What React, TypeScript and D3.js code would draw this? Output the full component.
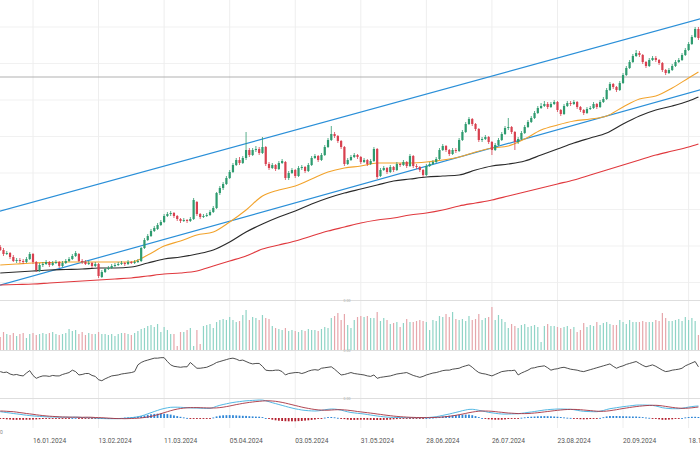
import * as d3 from 'd3';

// daily OHLC, first bar = 02.01.2024
const opens = [
  25.3, 25.0, 24.6, 24.7, 24.3, 23.9, 24.0, 23.9, 23.8, 24.1,
  24.6, 23.8, 22.9, 23.5, 23.6, 23.8, 23.5, 23.7, 23.8, 23.4,
  23.7, 23.9, 24.1, 24.4, 24.6, 23.9, 23.8, 23.6, 23.7, 23.4,
  23.6, 22.3, 22.8, 23.1, 23.2, 23.4, 23.5, 23.6, 23.7, 23.6,
  23.8, 23.7, 23.8, 23.9, 25.2, 26.0, 26.4, 26.9, 27.1, 27.5,
  27.8, 28.4, 28.6, 28.7, 28.4, 28.1, 27.9, 28.0, 27.9, 28.1,
  29.8, 28.6, 28.3, 28.4, 28.5, 28.8, 29.2, 30.7, 31.2, 31.6,
  32.2, 32.8, 33.5, 34.0, 33.7, 34.2, 35.0, 34.5, 35.0, 35.1,
  34.7, 35.3, 33.6, 33.2, 33.5, 33.1, 33.7, 33.8, 32.2, 32.7,
  33.0, 32.4, 33.2, 33.3, 32.9, 33.5, 34.2, 34.4, 34.0, 34.5,
  35.3, 36.0, 36.6, 36.4, 35.9, 35.3, 33.6, 34.0, 34.3, 34.5,
  34.3, 33.8, 34.0, 33.6, 33.9, 35.1, 32.4, 33.0, 33.2, 32.8,
  33.3, 33.0, 33.6, 33.5, 33.8, 33.4, 34.4, 33.4, 33.3, 33.0,
  32.5, 33.4, 33.6, 33.8, 34.1, 35.0, 35.4, 35.0, 34.6, 35.0,
  34.9, 36.0, 36.8, 37.6, 38.1, 37.6, 37.1, 36.0, 36.1, 36.3,
  35.8, 35.0, 35.5, 36.0, 36.6, 37.2, 37.3, 36.8, 35.8, 36.1,
  36.7, 37.3, 37.8, 38.2, 38.7, 39.2, 39.4, 39.6, 39.3, 39.6,
  39.8, 39.0, 38.6, 39.4, 39.7, 39.6, 39.8, 39.3, 39.0, 38.7,
  39.1, 39.2, 39.6, 39.3, 39.8, 40.1, 41.0, 41.6, 41.3, 41.0,
  41.7, 42.5, 43.2, 43.8, 44.4, 44.7, 44.5, 43.8, 43.4, 44.0,
  44.2, 44.0, 43.7, 43.0, 42.7, 43.0, 43.4, 43.8, 44.0, 44.5,
  45.0, 45.6, 46.3, 47.1,
];
const highs = [
  25.5, 25.2, 24.9, 24.8, 24.5, 24.2, 24.2, 24.1, 24.3, 24.8,
  24.7, 23.9, 23.7, 23.8, 24.0, 23.9, 23.9, 24.0, 23.9, 23.9,
  24.1, 24.3, 24.6, 24.9, 24.7, 24.1, 24.0, 23.9, 23.8, 23.8,
  23.7, 23.0, 23.2, 23.4, 23.6, 23.7, 23.8, 23.9, 23.8, 24.0,
  23.9, 24.0, 24.1, 25.3, 26.2, 26.6, 27.1, 27.4, 27.7, 28.0,
  28.6, 28.8, 28.9, 28.8, 28.5, 28.2, 28.2, 28.1, 28.3, 30.2,
  29.9, 28.7, 28.6, 28.7, 29.0, 29.4, 30.8, 31.4, 31.8, 32.4,
  33.0, 33.7, 34.2, 34.3, 34.4, 36.8, 35.2, 35.2, 35.4, 35.3,
  36.3, 35.4, 33.8, 33.7, 33.6, 33.9, 34.1, 33.9, 32.9, 33.2,
  33.1, 33.4, 33.5, 33.4, 33.7, 34.4, 34.6, 34.5, 34.7, 35.5,
  36.2, 37.4, 36.8, 36.5, 36.0, 35.4, 34.2, 34.5, 34.7, 34.6,
  34.4, 34.2, 34.1, 34.1, 35.3, 35.2, 33.2, 33.4, 33.3, 33.5,
  33.4, 33.8, 33.7, 34.0, 33.9, 34.6, 34.5, 33.6, 33.4, 33.1,
  33.6, 33.8, 34.0, 34.3, 35.2, 35.6, 35.5, 35.1, 35.2, 35.2,
  36.2, 37.0, 37.8, 38.3, 38.2, 37.7, 37.2, 36.3, 36.5, 36.4,
  35.9, 35.7, 36.2, 36.8, 37.4, 38.2, 37.4, 36.9, 36.3, 36.9,
  37.5, 38.0, 38.4, 38.9, 39.4, 39.7, 39.9, 39.8, 39.8, 40.0,
  39.9, 39.1, 39.6, 39.9, 39.9, 40.0, 39.9, 39.4, 39.1, 39.3,
  39.4, 39.8, 39.7, 40.0, 40.3, 41.2, 41.8, 41.7, 41.4, 41.9,
  42.7, 43.4, 44.0, 44.6, 45.0, 44.9, 44.6, 43.9, 44.2, 44.4,
  44.4, 44.1, 43.8, 43.1, 43.2, 43.6, 44.0, 44.2, 44.7, 45.2,
  45.8, 46.5, 47.3, 47.3,
];
const lows = [
  24.9, 24.4, 24.5, 24.1, 23.8, 23.7, 23.7, 23.6, 23.7, 24.0,
  23.6, 22.8, 22.8, 23.3, 23.5, 23.3, 23.4, 23.6, 23.2, 23.3,
  23.6, 23.8, 24.0, 24.3, 23.8, 23.6, 23.5, 23.5, 23.2, 23.3,
  22.2, 22.2, 22.7, 23.0, 23.1, 23.3, 23.4, 23.5, 23.4, 23.5,
  23.6, 23.6, 23.7, 23.8, 25.1, 25.9, 26.3, 26.8, 27.0, 27.4,
  27.7, 28.3, 28.4, 28.2, 27.9, 27.7, 27.8, 27.7, 27.8, 28.0,
  28.4, 28.1, 28.2, 28.3, 28.4, 28.7, 29.1, 30.5, 31.0, 31.5,
  32.1, 32.7, 33.4, 33.5, 33.6, 34.0, 34.3, 34.4, 34.8, 34.5,
  34.6, 33.4, 33.0, 33.1, 32.9, 33.0, 33.6, 32.0, 32.0, 32.6,
  32.2, 32.3, 33.0, 32.7, 32.8, 33.4, 34.1, 33.8, 33.9, 34.4,
  35.2, 35.9, 36.2, 35.7, 35.1, 33.4, 33.5, 33.9, 34.2, 34.1,
  33.6, 33.7, 33.4, 33.5, 33.8, 32.1, 32.3, 32.9, 32.6, 32.7,
  32.8, 32.9, 33.3, 33.4, 33.2, 33.3, 33.2, 33.1, 32.8, 32.3,
  32.4, 33.3, 33.5, 33.7, 34.0, 34.9, 34.8, 34.4, 34.5, 34.7,
  34.8, 35.9, 36.7, 37.5, 37.4, 36.9, 35.8, 35.8, 36.0, 35.6,
  34.5, 34.9, 35.4, 35.9, 36.5, 37.0, 36.6, 35.0, 35.6, 36.0,
  36.6, 37.2, 37.7, 38.1, 38.6, 39.1, 39.3, 39.1, 39.2, 39.5,
  38.8, 38.4, 38.5, 39.3, 39.4, 39.5, 39.1, 38.8, 38.5, 38.6,
  39.0, 39.1, 39.1, 39.2, 39.7, 40.0, 40.9, 41.1, 40.8, 40.9,
  41.6, 42.4, 43.1, 43.7, 44.3, 44.3, 43.6, 43.2, 43.3, 43.9,
  43.8, 43.5, 42.8, 42.5, 42.6, 42.9, 43.3, 43.7, 43.9, 44.4,
  44.9, 45.5, 46.2, 46.0,
];
const closes = [
  25.0, 24.6, 24.7, 24.3, 23.9, 24.0, 23.9, 23.8, 24.1, 24.6,
  23.8, 23.0, 23.5, 23.6, 23.8, 23.5, 23.7, 23.8, 23.4, 23.7,
  23.9, 24.1, 24.4, 24.7, 23.9, 23.8, 23.6, 23.7, 23.4, 23.6,
  22.4, 22.8, 23.1, 23.2, 23.4, 23.5, 23.6, 23.7, 23.6, 23.8,
  23.7, 23.8, 23.9, 25.2, 26.0, 26.4, 26.9, 27.2, 27.5, 27.8,
  28.4, 28.6, 28.7, 28.4, 28.1, 27.9, 28.0, 27.9, 28.1, 30.0,
  28.6, 28.3, 28.4, 28.5, 28.8, 29.2, 30.7, 31.2, 31.6, 32.2,
  32.8, 33.5, 34.0, 33.7, 34.2, 35.0, 34.5, 35.0, 35.1, 34.7,
  35.3, 33.6, 33.2, 33.5, 33.1, 33.7, 33.9, 32.2, 32.7, 33.0,
  32.4, 33.2, 33.3, 32.9, 33.5, 34.2, 34.4, 34.0, 34.5, 35.3,
  36.0, 36.6, 36.4, 35.9, 35.3, 33.6, 34.0, 34.3, 34.5, 34.3,
  33.8, 34.0, 33.6, 33.9, 35.1, 32.3, 33.0, 33.2, 32.8, 33.3,
  33.0, 33.6, 33.5, 33.8, 33.4, 34.4, 33.4, 33.3, 33.0, 32.5,
  33.4, 33.6, 33.8, 34.1, 35.0, 35.4, 35.0, 34.6, 35.0, 34.9,
  36.0, 36.8, 37.6, 38.1, 37.6, 37.1, 36.0, 36.1, 36.3, 35.8,
  35.0, 35.5, 36.0, 36.6, 37.2, 37.3, 36.8, 35.8, 36.1, 36.7,
  37.3, 37.8, 38.2, 38.7, 39.2, 39.4, 39.6, 39.3, 39.6, 39.8,
  39.0, 38.6, 39.4, 39.7, 39.6, 39.8, 39.3, 39.0, 38.7, 39.1,
  39.2, 39.6, 39.3, 39.8, 40.1, 41.0, 41.6, 41.3, 41.0, 41.7,
  42.5, 43.2, 43.8, 44.4, 44.7, 44.5, 43.8, 43.4, 44.0, 44.2,
  44.0, 43.7, 43.0, 42.7, 43.0, 43.4, 43.8, 44.0, 44.5, 45.0,
  45.6, 46.3, 47.1, 46.2,
];

// volume in millions
const volumes = [
  13, 18, 16, 15, 17, 14, 16, 17, 12, 16,
  17, 15, 16, 17, 16, 17, 18, 16, 15, 16,
  17, 21, 19, 20, 16, 18, 15, 17, 16, 16,
  18, 16, 16, 15, 16, 14, 16, 17, 17, 16,
  15, 17, 19, 21, 22, 24, 25, 23, 26, 18,
  23, 20, 16, 16, 4, 18, 18, 20, 22, 4,
  20, 6, 24, 25, 26, 22, 28, 30, 31, 30,
  33, 30, 28, 29, 35, 40, 30, 33, 32, 30,
  35, 32, 31, 24, 22, 21, 20, 22, 19, 20,
  19, 18, 20, 19, 21, 20, 20, 19, 21, 23,
  22, 32, 34, 37, 30, 36, 25, 22, 30, 33,
  34, 33, 34, 32, 32, 38, 29, 32, 30, 26,
  27, 28, 23, 27, 31, 28, 28, 29, 30, 29,
  28, 20, 30, 29, 34, 33, 36, 33, 38, 31,
  30, 31, 29, 34, 30, 31, 36, 30, 32, 33,
  43, 30, 35, 31, 28, 22, 26, 24, 22, 25,
  26, 23, 24, 25, 23, 8, 24, 26, 24, 24,
  23, 22, 23, 24, 21, 23, 18, 20, 27, 23,
  25, 24, 28, 25, 27, 28, 26, 25, 25, 30,
  28, 26, 30, 28, 28, 28, 29, 28, 28, 28,
  30, 29, 37, 32, 29, 29, 30, 31, 29, 33,
  30, 32, 29, 15,
];

// oscillator (RSI)
const rsi = [
  55, 53, 54, 50, 48, 49, 47, 46, 52, 57,
  47, 41, 44, 46, 46, 45, 47, 46, 46, 49,
  51, 53, 58, 55, 48, 49, 51, 51, 47, 45,
  38, 36, 40, 43, 46, 47, 48, 50, 51, 52,
  53, 55, 69, 74, 77, 79, 81, 83, 83, 84,
  84, 76, 69, 66, 65, 64, 65, 65, 74, 68,
  62, 62, 63, 64, 67, 70, 74, 76, 78, 80,
  82, 83, 81, 78, 79, 76, 73, 71, 72, 72,
  66, 58, 57, 57, 58, 58, 55, 48, 51, 52,
  53, 53, 51, 53, 56, 58, 59, 58, 62, 63,
  64, 65, 60, 54, 48, 49, 51, 53, 51, 50,
  49, 48, 46, 45, 48, 41, 43, 44, 45, 46,
  48, 50, 51, 52, 53, 50, 47, 45, 43, 45,
  48, 50, 52, 53, 55, 57, 58, 58, 60, 61,
  62, 65, 67, 69, 64, 58, 53, 51, 50, 48,
  46, 49, 52, 55, 56, 57, 57, 58, 48, 52,
  55, 58, 62, 63, 65, 66, 67, 63, 58, 60,
  61, 63, 64, 62, 60, 59, 58, 56, 55, 57,
  59, 61, 63, 65, 67, 69, 71, 66, 62, 65,
  67, 70, 72, 74, 76, 72, 68, 65, 67, 69,
  66, 62, 58, 55, 56, 58, 59, 60, 62, 67,
  70, 73, 76, 65,
];

const macd = [
  0.63, 0.59, 0.54, 0.50, 0.45, 0.41, 0.37, 0.32, 0.28, 0.24,
  0.21, 0.18, 0.16, 0.14, 0.12, 0.10, 0.10, 0.09, 0.08, 0.08,
  0.08, 0.07, 0.08, 0.09, 0.07, 0.05, 0.04, 0.03, 0.02, 0.00,
  -0.03, -0.05, -0.06, -0.07, -0.07, -0.07, -0.06, -0.05, -0.03, 0.00,
  0.03, 0.07, 0.12, 0.20, 0.30, 0.42, 0.53, 0.65, 0.76, 0.87,
  0.95, 1.02, 1.07, 1.08, 1.08, 1.07, 1.05, 1.03, 1.01, 1.00,
  1.00, 0.98, 0.97, 0.96, 0.97, 1.05, 1.17, 1.27, 1.35, 1.42,
  1.49, 1.55, 1.60, 1.64, 1.68, 1.72, 1.74, 1.76, 1.78, 1.80,
  1.79, 1.72, 1.63, 1.53, 1.44, 1.35, 1.26, 1.17, 1.08, 1.00,
  0.92, 0.86, 0.80, 0.76, 0.73, 0.71, 0.70, 0.72, 0.76, 0.82,
  0.87, 0.90, 0.89, 0.85, 0.79, 0.70, 0.62, 0.55, 0.51, 0.47,
  0.44, 0.40, 0.35, 0.30, 0.25, 0.20, 0.16, 0.12, 0.09, 0.07,
  0.06, 0.05, 0.04, 0.04, 0.03, 0.03, 0.03, 0.03, 0.03, 0.03,
  0.04, 0.06, 0.09, 0.13, 0.19, 0.26, 0.33, 0.40, 0.48, 0.56,
  0.64, 0.73, 0.80, 0.86, 0.87, 0.83, 0.77, 0.70, 0.64, 0.56,
  0.52, 0.47, 0.43, 0.40, 0.39, 0.40, 0.41, 0.42, 0.43, 0.47,
  0.51, 0.56, 0.60, 0.65, 0.70, 0.75, 0.80, 0.83, 0.86, 0.88,
  0.90, 0.90, 0.89, 0.88, 0.87, 0.83, 0.77, 0.71, 0.67, 0.65,
  0.64, 0.63, 0.63, 0.68, 0.75, 0.85, 0.93, 0.98, 1.03, 1.08,
  1.13, 1.17, 1.21, 1.25, 1.29, 1.30, 1.30, 1.29, 1.28, 1.26,
  1.20, 1.12, 1.03, 0.98, 0.95, 0.93, 0.93, 0.93, 0.97, 1.03,
  1.09, 1.14, 1.18, 1.20,
];
const signal = [
  0.70, 0.69, 0.67, 0.65, 0.63, 0.59, 0.54, 0.50, 0.45, 0.41,
  0.37, 0.32, 0.28, 0.24, 0.21, 0.18, 0.16, 0.14, 0.12, 0.10,
  0.10, 0.09, 0.08, 0.08, 0.08, 0.07, 0.08, 0.08, 0.07, 0.05,
  0.04, 0.03, 0.01, -0.01, -0.03, -0.05, -0.06, -0.06, -0.07, -0.06,
  -0.05, -0.04, -0.02, 0.01, 0.05, 0.10, 0.16, 0.24, 0.33, 0.43,
  0.53, 0.63, 0.73, 0.82, 0.89, 0.95, 0.99, 1.02, 1.04, 1.04,
  1.04, 1.03, 1.02, 1.01, 1.00, 1.00, 1.01, 1.04, 1.08, 1.14,
  1.20, 1.27, 1.34, 1.40, 1.46, 1.51, 1.56, 1.60, 1.64, 1.67,
  1.70, 1.72, 1.72, 1.70, 1.67, 1.62, 1.56, 1.49, 1.41, 1.33,
  1.25, 1.17, 1.09, 1.02, 0.96, 0.90, 0.85, 0.81, 0.79, 0.78,
  0.78, 0.80, 0.82, 0.83, 0.83, 0.81, 0.78, 0.74, 0.70, 0.65,
  0.61, 0.57, 0.53, 0.49, 0.45, 0.40, 0.36, 0.31, 0.27, 0.23,
  0.19, 0.16, 0.13, 0.11, 0.09, 0.07, 0.06, 0.05, 0.05, 0.04,
  0.04, 0.04, 0.05, 0.06, 0.08, 0.10, 0.13, 0.17, 0.22, 0.27,
  0.33, 0.39, 0.46, 0.53, 0.59, 0.64, 0.68, 0.70, 0.70, 0.69,
  0.67, 0.64, 0.60, 0.57, 0.53, 0.50, 0.48, 0.46, 0.44, 0.44,
  0.44, 0.45, 0.47, 0.50, 0.53, 0.57, 0.61, 0.65, 0.69, 0.73,
  0.77, 0.80, 0.83, 0.85, 0.86, 0.86, 0.85, 0.83, 0.80, 0.77,
  0.74, 0.71, 0.68, 0.67, 0.67, 0.69, 0.73, 0.78, 0.83, 0.89,
  0.95, 1.00, 1.05, 1.10, 1.14, 1.18, 1.21, 1.24, 1.26, 1.27,
  1.27, 1.25, 1.21, 1.16, 1.11, 1.06, 1.02, 0.99, 0.97, 0.97,
  0.99, 1.02, 1.06, 1.10,
];

// moving averages, read every 5 bars
const maBars = [
  0, 5, 10, 15, 20, 25, 30, 35, 40, 45, 50, 55, 60, 65, 70, 75, 80, 85, 90, 95, 100, 105,
  110, 115, 120, 125, 130, 135, 140, 145, 150, 155, 160, 165, 170, 175, 180, 185, 190, 195, 200, 205, 210, 213,
];
const ma20 = [
  23.5, 23.6, 23.7, 23.75, 23.8, 23.8, 23.8, 23.8, 23.8, 24.5, 25.4, 25.9, 26.5, 26.8, 27.8, 29.0, 30.4, 31.0, 31.4, 32.1, 32.8, 33.2,
  33.4, 33.7, 33.7, 33.7, 33.8, 34.0, 34.3, 34.8, 35.2, 35.4, 36.1, 37.0, 37.5, 37.9, 38.1, 38.4, 39.3, 40.1, 40.4, 41.2, 42.2, 42.8,
];
const ma50 = [
  22.7, 22.8, 22.9, 23.0, 23.05, 23.1, 23.2, 23.2, 23.3, 23.7, 24.1, 24.3, 24.6, 25.0, 25.8, 26.8, 27.6, 28.3, 28.9, 29.6, 30.2, 30.7,
  31.1, 31.5, 31.9, 32.1, 32.3, 32.4, 32.5, 33.0, 33.4, 33.6, 33.9, 34.5, 35.1, 35.7, 36.2, 36.7, 37.6, 38.4, 39.0, 39.4, 39.9, 40.3,
];
const ma200 = [
  21.5, 21.55, 21.6, 21.7, 21.8, 21.9, 22.0, 22.1, 22.2, 22.4, 22.6, 22.7, 22.9, 23.4, 23.9, 24.4, 25.1, 25.5, 25.9, 26.4, 26.9, 27.3,
  27.7, 28.0, 28.2, 28.5, 28.7, 29.0, 29.4, 29.7, 30.0, 30.4, 30.8, 31.2, 31.6, 32.0, 32.5, 33.0, 33.5, 34.0, 34.5, 34.9, 35.3, 35.6,
];

// trend channel (bar, price)
const channelUpper = [
  { bar: -1, price: 28.8 },
  { bar: 214, price: 48.15 },
];
const channelLower = [
  { bar: -1, price: 21.4 },
  { bar: 214, price: 41.05 },
];
const levelLine = 42.3;

const tickBars = [10, 30, 50, 70, 90, 110, 130, 150, 170, 190, 210];
const tickLabels = [
  '16.01.2024', '13.02.2024', '11.03.2024', '05.04.2024', '03.05.2024', '31.05.2024',
  '28.06.2024', '26.07.2024', '23.08.2024', '20.09.2024', '18.10.2024',
];
const gridPrices = [47.3, 43.65, 40.0, 36.35, 32.7, 29.05, 25.4, 21.75];

const UP = '#2e9b6f';
const DOWN = '#d8404f';
const VOL_UP = '#8fd4c6';
const VOL_DOWN = '#e6a6ab';

const App = () => {
	const W = 700;
	const H = 450;
	const n = closes.length;

	const x = d3.scaleLinear().domain([0, n - 1]).range([0.22, 0.22 + 3.278 * (n - 1)]);
	const y = d3.scaleLinear().domain([20, 50]).range([300, 0]);
	const yVol = d3.scaleLinear().domain([0, 50]).range([350, 300]);
	const yOsc = d3.scaleLinear().domain([0, 100]).range([398, 350]);
	const yMacd = d3.scaleLinear().domain([0, 1.8]).range([418, 400]);

	const maLine = (vals: number[]) =>
		d3
			.line<number>()
			.x((_, i) => x(maBars[i]))
			.y((v) => y(v))
			.curve(d3.curveMonotoneX)(vals) ?? '';

	const trend = d3
		.line<{ bar: number; price: number }>()
		.x((d) => x(d.bar))
		.y((d) => y(d.price));

	const oscPath =
		d3
			.line<number>()
			.x((_, i) => x(i))
			.y((v) => yOsc(v))(rsi) ?? '';

	const macdLine = (vals: number[]) =>
		d3
			.line<number>()
			.x((_, i) => x(i))
			.y((v) => yMacd(v))
			.curve(d3.curveMonotoneX)(vals) ?? '';

	const bodyW = 2.2;

	return (
		<div style={{ position: 'absolute', left: 0, top: 0 }}>
			<svg width={W} height={H} style={{ display: 'block', background: '#fff' }}>
				<defs>
					<clipPath id='main-clip'>
						<rect x={0} y={0} width={W} height={300} />
					</clipPath>
				</defs>

				{/* grid */}
				{gridPrices.map((p) => (
					<line key={p} x1={0} x2={W} y1={y(p)} y2={y(p)} stroke='#f1f1f1' />
				))}
				{tickBars.map((b) => (
					<line key={b} x1={x(b)} x2={x(b)} y1={0} y2={428} stroke='#eeeeee' />
				))}

				{/* panel separators */}
				{[300.5, 350.5, 398.5].map((v) => (
					<line key={v} x1={0} x2={W} y1={v} y2={v} stroke='#dedede' />
				))}
				{[300.5, 350.5, 398.5].map((v) => (
					<text key={'t' + v} x={347} y={v + 1.3} fontSize={3.5} fill='#aaa'
						textAnchor='middle' fontFamily='Roboto, sans-serif'>
						0.00
					</text>
				))}

				<g clipPath='url(#main-clip)'>
					<line x1={0} x2={W} y1={y(levelLine)} y2={y(levelLine)} stroke='#a8a8a8' strokeWidth={0.9} />

					<path d={trend(channelUpper) ?? ''} fill='none' stroke='#2a8fd8' strokeWidth={1.2} />
					<path d={trend(channelLower) ?? ''} fill='none' stroke='#2a8fd8' strokeWidth={1.2} />

					<path d={maLine(ma200)} fill='none' stroke='#e0393e' strokeWidth={1.2} />
					<path d={maLine(ma50)} fill='none' stroke='#2a2a2a' strokeWidth={1.2} />
					<path d={maLine(ma20)} fill='none' stroke='#f2a32c' strokeWidth={1.1} />

					{closes.map((c, i) => {
						const o = opens[i];
						const up = c >= o;
						const col = up ? UP : DOWN;
						const top = y(Math.max(o, c));
						const bot = y(Math.min(o, c));
						return (
							<g key={i}>
								<line x1={x(i)} x2={x(i)} y1={y(highs[i])} y2={y(lows[i])} stroke={col} strokeWidth={0.8} />
								<rect x={x(i) - bodyW / 2} y={top} width={bodyW} height={Math.max(0.8, bot - top)} fill={col} />
							</g>
						);
					})}
				</g>

				{/* volume */}
				{volumes.map((v, i) => (
					<rect key={i} x={x(i) - 0.6} y={yVol(v)} width={1.2} height={yVol(0) - yVol(v)}
						fill={closes[i] >= opens[i] ? VOL_UP : VOL_DOWN} />
				))}

				{/* oscillator */}
				<path d={oscPath} fill='none' stroke='#3a3a3a' strokeWidth={0.9} />

				{/* macd */}
				{macd.map((m, i) => {
					const h = m - signal[i];
					const y0 = yMacd(0);
					const y1 = yMacd(h);
					return (
						<rect key={i} x={x(i) - 0.9} y={Math.min(y0, y1)} width={1.8}
							height={Math.max(0.9, Math.abs(y1 - y0))} fill={h >= 0 ? '#2f86d6' : '#b3202e'} />
					);
				})}
				<path d={macdLine(macd)} fill='none' stroke='#3fb0e0' strokeWidth={0.9} />
				<path d={macdLine(signal)} fill='none' stroke='#a83240' strokeWidth={0.9} />

				{/* date axis */}
				{tickBars.map((b, k) => (
					<text key={b} x={x(b)} y={443} fontSize={6.6} fill='#555'
						fontFamily='Roboto, "Liberation Sans", Arial, sans-serif'>
						{tickLabels[k]}
					</text>
				))}
				<text x={0} y={434} fontSize={5} fill='#888' fontFamily='Roboto, sans-serif'>0</text>
			</svg>
		</div>
	);
};

export default App;
